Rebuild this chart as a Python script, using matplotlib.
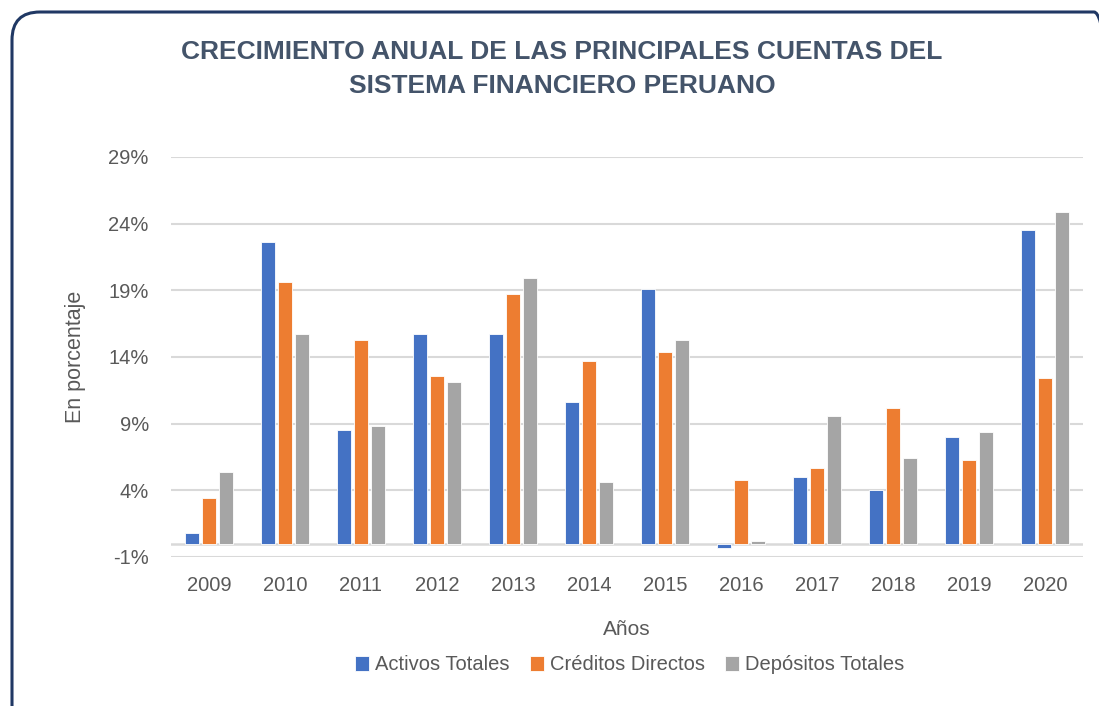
import matplotlib
matplotlib.use("Agg")
import matplotlib.pyplot as plt
import matplotlib.patches as mpatches
from matplotlib.transforms import IdentityTransform
from matplotlib.ticker import FixedLocator
import numpy as np

years = ["2009", "2010", "2011", "2012", "2013", "2014", "2015", "2016", "2017", "2018", "2019", "2020"]
activos = [0.8, 22.6, 8.5, 15.7, 15.7, 10.6, 19.1, -0.3, 5.0, 4.0, 8.0, 23.5]
creditos = [3.4, 19.6, 15.3, 12.6, 18.7, 13.7, 14.4, 4.8, 5.7, 10.2, 6.3, 12.4]
depositos = [5.4, 15.7, 8.8, 12.1, 19.9, 4.6, 15.3, 0.2, 9.6, 6.4, 8.4, 24.9]
series_names = ["Activos Totales", "Créditos Directos", "Depósitos Totales"]
yticks = [-1, 4, 9, 14, 19, 24, 29]

colors = ["#4472C4", "#ED7D31", "#A5A5A5"]
FONT = ["Liberation Sans Narrow", "Liberation Sans", "DejaVu Sans"]
plt.rcParams["font.family"] = FONT
txt = "#595959"

fig = plt.figure(figsize=(10.99, 7.06), dpi=100)
ax = fig.add_axes([171/1099, 1-557/706, (1083-171)/1099, (557-157)/706])

x = np.arange(len(years))
w = 0.175
off = 0.225
for i, (vals, c, n) in enumerate(zip([activos, creditos, depositos], colors, series_names)):
    ax.bar(x + (i-1)*off, vals, width=w, color=c, label=n, edgecolor="white", linewidth=0.6, zorder=3)

ax.set_xlim(-0.5, len(years)-0.5)
ax.set_ylim(-1, 29)
ax.yaxis.set_major_locator(FixedLocator(yticks))
ax.set_yticklabels([f"{t}%" for t in yticks])
ax.set_xticks(x)
ax.set_xticklabels(years)
ax.grid(axis="y", color="#D9D9D9", linewidth=1.5, zorder=0)
ax.axhline(0, color="#D9D9D9", linewidth=1.8, zorder=2)
for s in ax.spines.values():
    s.set_visible(False)
ax.tick_params(axis="both", length=0, labelsize=14.5, labelcolor=txt)
ax.tick_params(axis="y", pad=16)
ax.tick_params(axis="x", pad=14)

ax.set_xlabel("Años", fontsize=15, color=txt, labelpad=18)
ax.set_ylabel("En porcentaje", fontsize=15.5, color=txt, labelpad=16)

fig.text(562/1099, 1-52/706, "CRECIMIENTO ANUAL DE LAS PRINCIPALES CUENTAS DEL", ha="center", va="center",
         fontsize=19, fontweight="bold", color="#44546A")
fig.text(562/1099, 1-86/706, "SISTEMA FINANCIERO PERUANO", ha="center", va="center",
         fontsize=19, fontweight="bold", color="#44546A")

fig.legend(loc="center", bbox_to_anchor=(630/1099, 1-665/706), ncol=3, frameon=False,
           fontsize=14.5, handlelength=0.7, handleheight=0.7, handletextpad=0.3, columnspacing=1.0,
           labelcolor=txt)

box = mpatches.FancyBboxPatch((12, -30), 1110, 694+30, boxstyle="round,pad=0,rounding_size=28",
                              transform=IdentityTransform(), facecolor="none", edgecolor="#203864",
                              linewidth=2.2)
fig.patches.append(box)

fig.savefig("out.png", dpi=100)
